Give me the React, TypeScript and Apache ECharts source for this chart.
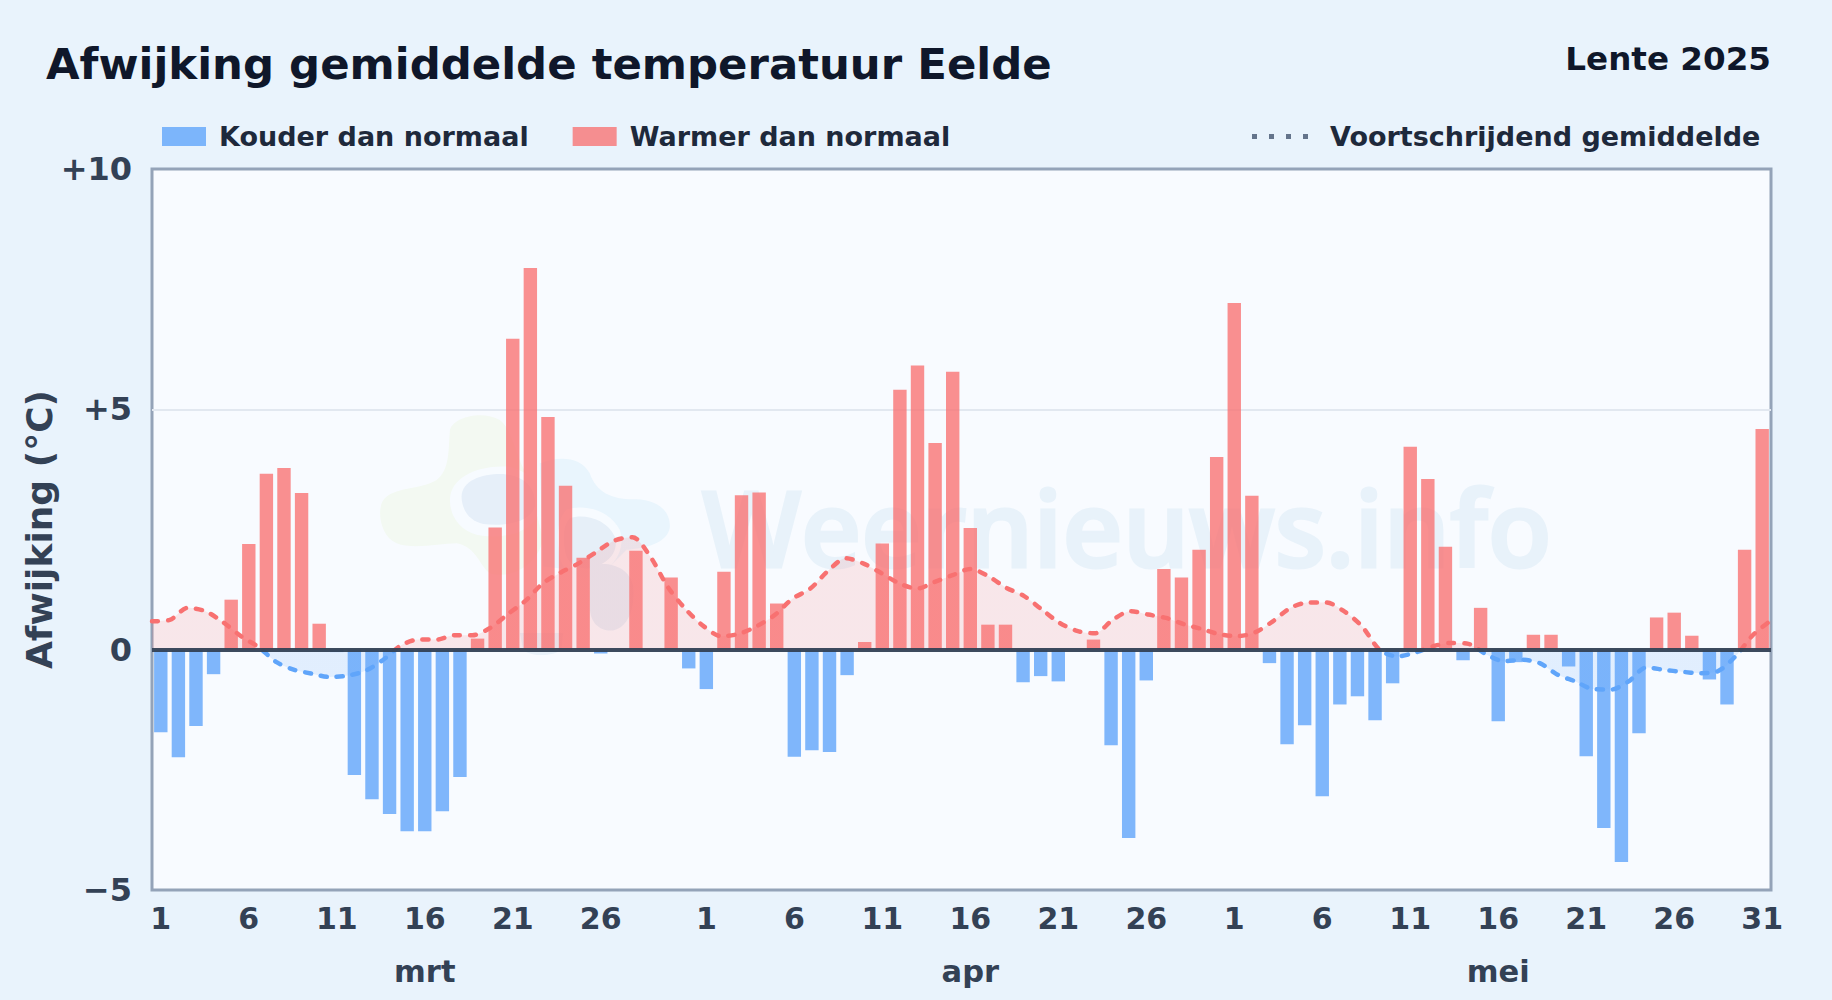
import React, { useEffect, useRef } from "react";
import * as echarts from "echarts";

const monthNames = ["mrt", "apr", "mei"];
const monthLengths = [31, 30, 31];

const deviations = [
  -1.72, -2.24, -1.59, -0.51, 1.04, 2.2, 3.66, 3.78, 3.26, 0.54, -0.05, -2.61, -3.11, -3.42, -3.78, -3.78,
  -3.36, -2.65, 0.23, 2.54, 6.47, 7.94, 4.84, 3.41, 1.91, -0.08, 0, 2.06, 0, 1.5, -0.39,
  -0.82, 1.62, 3.21, 3.27, 0.96, -2.23, -2.09, -2.13, -0.53, 0.16, 2.21, 5.41, 5.91, 4.3, 5.78, 2.53,
  0.52, 0.52, -0.68, -0.55, -0.66, 0, 0.21, -1.99, -3.92, -0.64, 1.68, 1.5, 2.08, 4.01,
  7.21, 3.2, -0.28, -1.97, -1.57, -3.05, -1.14, -0.97, -1.47, -0.7, 4.22, 3.55, 2.14, -0.22, 0.87, -1.49,
  -0.26, 0.31, 0.31, -0.35, -2.22, -3.71, -4.42, -1.74, 0.67, 0.77, 0.29, -0.62, -1.14, 2.08, 4.59,
];

const rollingMean = [
  0.59, 0.62, 0.87, 0.8, 0.57, 0.28, 0.05, -0.26, -0.42, -0.5, -0.57, -0.54, -0.44, -0.21, 0.09, 0.21,
  0.21, 0.3, 0.3, 0.45, 0.74, 1.02, 1.39, 1.61, 1.8, 2.04, 2.27, 2.34, 1.94, 1.3, 0.84,
  0.49, 0.28, 0.33, 0.49, 0.72, 1.06, 1.27, 1.64, 1.9, 1.79, 1.59, 1.38, 1.27, 1.41, 1.55, 1.68,
  1.53, 1.29, 1.12, 0.84, 0.56, 0.39, 0.34, 0.62, 0.8, 0.73, 0.66, 0.53, 0.43, 0.32,
  0.28, 0.36, 0.59, 0.87, 0.98, 0.98, 0.8, 0.49, 0, -0.14, -0.06, 0.07, 0.14, 0.12, -0.1, -0.24,
  -0.21, -0.28, -0.52, -0.66, -0.82, -0.83, -0.66, -0.37, -0.42, -0.46, -0.49, -0.45, -0.14, 0.31, 0.61,
];

const yTicks = { min: -5, max: 10, step: 5 };
const labelledDays = [1, 6, 11, 16, 21, 26];
const lastLabel = 91;

const days: string[] = [];
const monthRow: string[] = [];
monthLengths.forEach((len, m) => {
  for (let d = 1; d <= len; d++) {
    days.push(String(d));
    monthRow.push(d === 16 ? monthNames[m] : "");
  }
});

const colder = deviations.map((v) => (v < 0 ? v : null));
const warmer = deviations.map((v) => (v > 0 ? v : null));

const FONT = "DejaVu Sans";
const RED = "#f87171";
const BLUE = "#60a5fa";

const BLOBS: [string, string][] = [
  [
    "logoGreen",
    "M240 90C250 50 340 30 390 60C430 90 440 180 470 220L520 420C500 500 420 540 360 520C330 500 320 440 260 430C210 430 130 450 80 430C30 410 20 330 40 300C70 260 150 270 200 240C240 210 235 150 240 90Z",
  ],
  [
    "logoBlue",
    "M510 190C560 170 630 165 660 220C680 280 730 300 800 298C870 300 905 340 900 385C890 430 830 445 770 450L700 520L520 500Z",
  ],
  ["logoRingA", "M240 300C240 230 330 195 410 200C480 210 520 260 510 330C490 400 400 420 320 405C270 390 240 350 240 300Z"],
  ["logoCoreA", "M275 290C275 240 340 220 400 222C460 228 500 260 495 320C480 370 400 380 340 372C300 365 275 330 275 290Z"],
  ["logoRingB", "M590 330C640 310 720 330 750 390C770 450 730 510 670 530C620 540 580 520 570 470C560 420 560 360 590 330Z"],
  ["logoCoreB", "M600 355C640 340 710 355 735 410C750 460 710 495 660 505C620 510 590 490 585 450C580 410 580 375 600 355Z"],
  ["logoLower", "M660 500C710 480 780 500 790 560C795 620 780 680 730 692C690 695 660 670 660 620Z"],
  ["logoBottom", "M450 700L580 700L575 750C550 770 490 772 460 752Z"],
];
const BLOB_FILLS: Record<string, string> = {
  logoGreen: "#f3f9f2",
  logoBlue: "#e9f5fd",
  logoRingA: "#f7fbff",
  logoCoreA: "#e6eff9",
  logoRingB: "#f7fbff",
  logoCoreB: "#e6eff8",
  logoLower: "#e6eff8",
  logoBottom: "#e9f2fa",
};
BLOBS.forEach(([name, d]) => {
  echarts.graphic.registerShape(name, echarts.graphic.extendPath(d, {}));
});

const DOT_ICON = "path://M0 0h5v5h-5zM17 0h5v5h-5zM34 0h5v5h-5zM51 0h5v5h-5z";

export default function App() {
  const ref = useRef<HTMLDivElement>(null);
  useEffect(() => {
    const chart = echarts.init(ref.current!, undefined, { renderer: "svg" });
    const legendText = { fontFamily: FONT, fontWeight: "bold", fontSize: 27, color: "#1e293b" };
    chart.setOption({
      animation: false,
      backgroundColor: "#e9f3fc",
      textStyle: { fontFamily: FONT },
      title: [
        {
          text: "Afwijking gemiddelde temperatuur Eelde",
          left: 41,
          top: 37,
          textStyle: { fontFamily: FONT, fontWeight: "bold", fontSize: 43.4, color: "#0f172a" },
        },
        {
          text: "Lente 2025",
          right: 56,
          top: 37,
          textStyle: { fontFamily: FONT, fontWeight: "bold", fontSize: 32.6, color: "#0f172a" },
        },
      ],
      legend: [
        {
          data: ["Kouder dan normaal", "Warmer dan normaal"],
          left: 157,
          top: 118,
          icon: "rect",
          itemWidth: 44,
          itemHeight: 19,
          itemGap: 44,
          textStyle: { ...legendText, padding: [0, 0, 0, 8] },
        },
        {
          data: [{ name: "Voortschrijdend gemiddelde", icon: DOT_ICON, itemStyle: { color: "#64748b" } }],
          left: 1247,
          top: 118,
          itemWidth: 56,
          itemHeight: 19,
          textStyle: { ...legendText, padding: [0, 0, 0, 17] },
        },
      ],
      grid: {
        left: 152,
        right: 61,
        top: 169,
        bottom: 110,
        show: true,
        backgroundColor: "#f8fbff",
        borderColor: "#94a3b8",
        borderWidth: 3,
        containLabel: false,
      },
      xAxis: [
        {
          type: "category",
          data: days,
          position: "bottom",
          axisLine: { show: false, onZero: false },
          axisTick: { show: false },
          splitLine: { show: false },
          axisLabel: {
            interval: (i: number, v: string) => labelledDays.includes(Number(v)) || i === lastLabel,
            fontFamily: FONT,
            fontWeight: "bold",
            fontSize: 30,
            color: "#334155",
            margin: 13,
          },
        },
        {
          type: "category",
          data: monthRow,
          position: "bottom",
          offset: 50,
          axisLine: { show: false, onZero: false },
          axisTick: { show: false },
          splitLine: { show: false },
          axisLabel: {
            interval: 0,
            fontFamily: FONT,
            fontWeight: "bold",
            fontSize: 30.5,
            color: "#334155",
            margin: 16,
          },
        },
        {
          type: "category",
          data: days,
          show: false,
          boundaryGap: false,
          axisLine: { onZero: false },
        },
      ],
      yAxis: {
        type: "value",
        min: yTicks.min,
        max: yTicks.max,
        interval: yTicks.step,
        name: "Afwijking (°C)",
        nameLocation: "middle",
        nameGap: 95,
        nameMoveOverlap: false,
        nameTextStyle: { fontFamily: FONT, fontWeight: "bold", fontSize: 36, color: "#334155" },
        axisLine: { show: false },
        axisTick: { show: false },
        splitLine: { show: true, showMinLine: false, showMaxLine: false, lineStyle: { color: "#e2e8f0", width: 2 } },
        axisLabel: {
          fontFamily: FONT,
          fontWeight: "bold",
          fontSize: 32,
          color: "#334155",
          margin: 20,
          formatter: (v: number) => (v > 0 ? `+${v}` : v < 0 ? `\u2212${Math.abs(v)}` : "0"),
        },
      },
      visualMap: {
        show: false,
        type: "piecewise",
        seriesIndex: 2,
        dimension: 1,
        pieces: [
          { min: -20, max: 0, color: BLUE },
          { gt: 0, max: 20, color: RED },
        ],
      },
      series: [
        {
          name: "Kouder dan normaal",
          type: "bar",
          data: colder,
          barWidth: 13.4,
          barGap: "-100%",
          itemStyle: { color: BLUE, opacity: 0.8 },
          z: 2,
        },
        {
          name: "Warmer dan normaal",
          type: "bar",
          data: warmer,
          barWidth: 13.4,
          barGap: "-100%",
          itemStyle: { color: RED, opacity: 0.78 },
          z: 2,
          markLine: {
            silent: true,
            symbol: "none",
            label: { show: false },
            lineStyle: { color: "#334155", width: 4, type: "solid", opacity: 0.95 },
            data: [{ yAxis: 0 }],
          },
        },
        {
          name: "Voortschrijdend gemiddelde",
          type: "line",
          xAxisIndex: 2,
          data: rollingMean,
          smooth: 0.3,
          showSymbol: false,
          lineStyle: { width: 4.5, type: [6, 10], cap: "round", opacity: 1 },
          areaStyle: { opacity: 0.15 },
          z: 3,
        },
      ],
      graphic: [
        {
          type: "group",
          z: 1,
          silent: true,
          children: [
            ...BLOBS.map(([name]) => ({
              type: name,
              x: 370,
              y: 400,
              scaleX: 1 / 3,
              scaleY: 1 / 3,
              z: 1,
              style: { fill: BLOB_FILLS[name] },
            })),
            {
              type: "text",
              x: 702,
              y: 474,
              z: 1,
              style: {
                text: "Weernieuws.info",
                fontFamily: "Open Sans",
                fontWeight: 600,
                fontSize: 104.7,
                fill: "#e8f2fa",
                stroke: "#e8f2fa",
                lineWidth: 3,
              },
            },
          ],
        },
      ],
    });
    return () => chart.dispose();
  }, []);
  return <div ref={ref} style={{ position: "fixed", left: 0, top: 0, width: 1832, height: 1000 }} />;
}
